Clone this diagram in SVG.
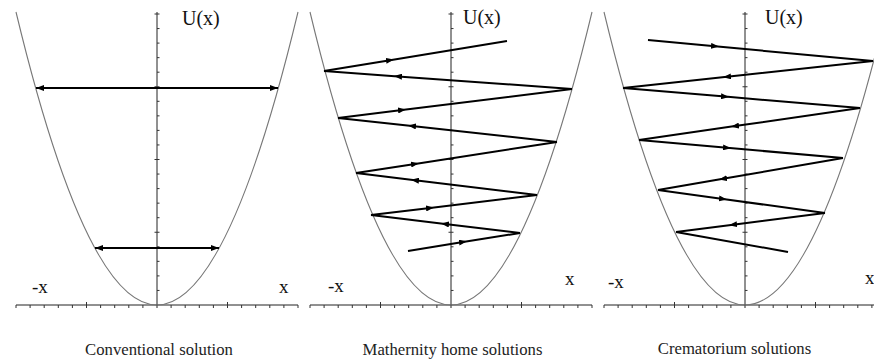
<svg xmlns="http://www.w3.org/2000/svg" xmlns:xlink="http://www.w3.org/1999/xlink" width="874" height="360" viewBox="0 0 874 360">
<style>
.axis{fill:none;stroke:#222;stroke-width:1}
.tick{fill:none;stroke:#333;stroke-width:1}
.para{fill:none;stroke:#777;stroke-width:1.1}
.ray{fill:none;stroke:#000;stroke-width:2;marker-mid:url(#ah)}
.plain{fill:none;stroke:#000;stroke-width:2}
.dbl{fill:none;stroke:#000;stroke-width:1.8;marker-start:url(#ae);marker-end:url(#ae)}
.lab{font-family:"Liberation Serif","Times New Roman",serif;fill:#111}
.big{font-size:20px}
.mid{font-size:19px}
.cap{font-size:16.7px;text-anchor:middle;fill:#222}
</style>
<defs>
<marker id="ah" viewBox="0 0 8 6" refX="4" refY="3" markerWidth="8" markerHeight="6" markerUnits="userSpaceOnUse" orient="auto"><path d="M0,0 L8,3 L0,6 z" fill="#000"/></marker>
<marker id="ae" viewBox="0 0 8 6" refX="8" refY="3" markerWidth="8" markerHeight="6" markerUnits="userSpaceOnUse" orient="auto-start-reverse"><path d="M0,0 L8,3 L0,6 z" fill="#000"/></marker>
<g id="axes">
<path class="axis" d="M16 305 H298 M157 12 V308"/>
<path class="tick" d="M16 305v3 M30.1 305v3 M44.2 305v3 M58.3 305v3 M72.4 305v3 M86.5 302v6 M100.6 305v3 M114.7 305v3 M128.8 305v3 M142.9 305v3 M171.1 305v3 M185.2 305v3 M199.3 305v3 M213.4 305v3 M227.5 302v6 M241.6 305v3 M255.7 305v3 M269.8 305v3 M283.9 305v3 M298 305v3"/>
<path class="tick" d="M157 290.45h2.5 M157 275.9h2.5 M157 261.35h2.5 M157 246.8h2.5 M154.5 232.25h5 M157 217.7h2.5 M157 203.15h2.5 M157 188.6h2.5 M157 174.05h2.5 M154.5 159.5h5 M157 144.95h2.5 M157 130.4h2.5 M157 115.85h2.5 M157 101.3h2.5 M154.5 86.75h5 M157 72.2h2.5 M157 57.65h2.5 M157 43.1h2.5 M157 28.55h2.5 M154.5 14h5"/>
<path class="para" d="M16 12 Q157 598 298 12"/>
</g>
</defs>

<g id="panel-conventional">
<use xlink:href="#axes" href="#axes"/>
<text class="lab big" x="182" y="25">U(x)</text>
<text class="lab mid" x="32" y="293">-x</text>
<text class="lab mid" x="279" y="293">x</text>
<text class="lab cap" x="159" y="355">Conventional solution</text>
</g>

<g id="panel-maternity">
<use xlink:href="#axes" href="#axes" transform="translate(294 0)"/>
<text class="lab big" x="463" y="24">U(x)</text>
<text class="lab mid" x="328" y="292">-x</text>
<text class="lab mid" x="565" y="285">x</text>
<text class="lab cap" x="452.5" y="355">Mathernity home solutions</text>
</g>

<g id="panel-crematorium">
<use xlink:href="#axes" href="#axes" transform="translate(588 0)"/>
<text class="lab big" x="765" y="24">U(x)</text>
<text class="lab mid" x="608" y="288">-x</text>
<text class="lab mid" x="865" y="284">x</text>
<text class="lab cap" x="734.5" y="354">Crematorium solutions</text>
</g>

<g id="connectors">
<path class="dbl" d="M36 88 H278"/>
<path class="dbl" d="M95 248 H219"/>

<path class="ray" d="M408 251 L463 242 L520 233"/>
<path class="ray" d="M520 233 L445 224 L371 215"/>
<path class="ray" d="M371 215 L430 208 L537 195"/>
<path class="ray" d="M537 195 L415 180.2 L356 173"/>
<path class="ray" d="M356 173 L415 163.9 L557 142"/>
<path class="ray" d="M557 142 L412 126 L338 118"/>
<path class="ray" d="M338 118 L402 110 L572 89"/>
<path class="ray" d="M572 89 L398 76.4 L324 71"/>
<path class="ray" d="M324 71 L390 60.2 L507 41"/>

<path class="ray" d="M648 40 L715 46.25 L873 61"/>
<path class="ray" d="M873 61 L727 76.8 L623 88"/>
<path class="ray" d="M623 88 L725 96.6 L860 108"/>
<path class="ray" d="M860 108 L735 126.1 L639 140"/>
<path class="ray" d="M639 140 L727 147.8 L843 158"/>
<path class="ray" d="M843 158 L723 178.8 L658 190"/>
<path class="ray" d="M658 190 L723 199 L825 213"/>
<path class="ray" d="M825 213 L733 224.7 L676 232"/>
<path class="plain" d="M676 232 L788 252"/>
</g>
</svg>
